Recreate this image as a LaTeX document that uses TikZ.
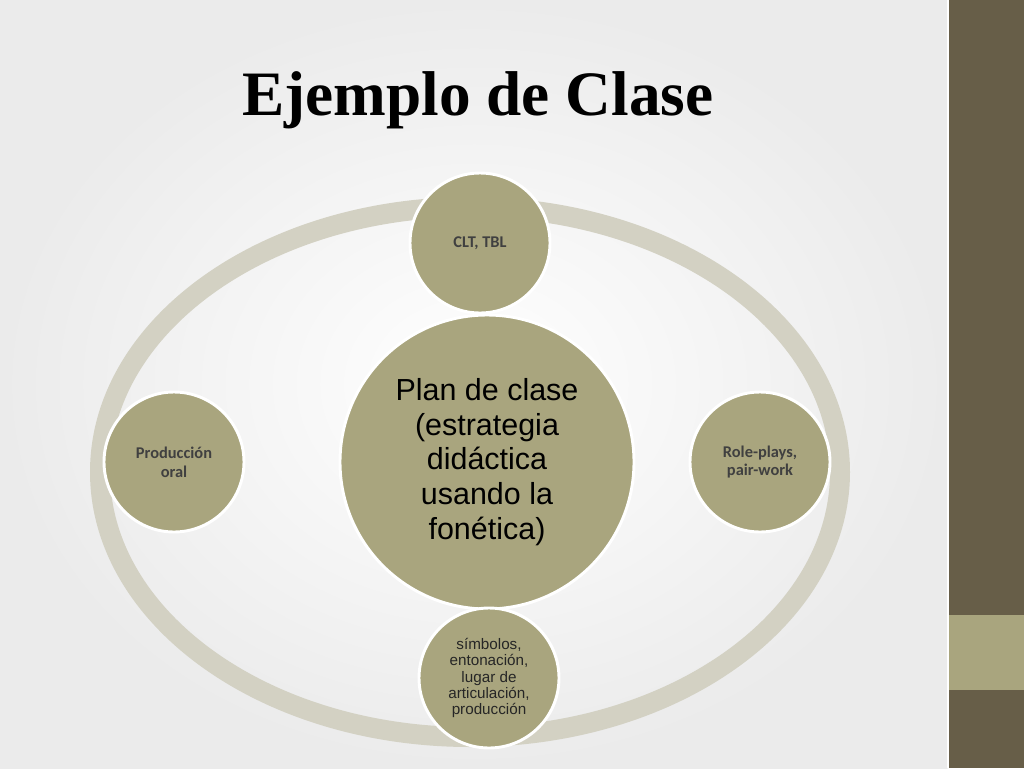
\documentclass[tikz,border=0pt]{standalone}
\usepackage{fontspec}
\setmainfont{Liberation Serif}
\newfontfamily\armfont{Liberation Sans}
\newfontfamily\carfont{Carlito}
\definecolor{olive}{HTML}{A9A57E}
\definecolor{ring}{HTML}{D3D1C3}
\definecolor{barDark}{HTML}{675E48}
\definecolor{paper}{HTML}{EBEBEB}
\tikzset{
  every picture/.style={line cap=round, line join=round},
  bubble/.style={circle, fill=olive, draw=white, line width=2.5pt, align=center, inner sep=0pt},
  hub/.style={bubble, minimum size=294*0.3mm, font=\armfont\fontsize{26}{29.5}\selectfont},
  spoke/.style={bubble, minimum size=140*0.3mm, font=\carfont\bfseries\fontsize{14}{16}\selectfont, text=black!75},
  spokeB/.style={spoke, font=\armfont\fontsize{13}{14}\selectfont, text=black!85}
}
\begin{document}
\begin{tikzpicture}[x=0.3mm, y=-0.3mm]
  \useasboundingbox (0,0) rectangle (1024,768);
  \shade[inner color=white, outer color=paper] (0,0) rectangle (948,768);
  \fill[barDark] (948,0) rectangle (1024,768);
  \fill[olive] (948,615) rectangle (1024,690);
  \draw[white, line width=1pt] (948,0) -- (948,768);

  % title
  \node[font=\bfseries\fontsize{60}{66}\selectfont, scale=0.9] (title) at (478,100) {Ejemplo de Clase};

  % ring
  \draw[ring, line width=20*0.3mm] (470,472) ellipse (370 and 265);

  \node[hub] (plan) at (487,462) {Plan de clase\\(estrategia\\didáctica\\usando la\\fonética)};
  \node[spoke] (clt) at (480,243) {CLT, TBL};
  \node[spoke] (prod) at (174,462) {Producción\\oral};
  \node[spoke] (role) at (760,462) {Role-plays,\\pair-work};
  \node[spokeB] (simb) at (489,678) {símbolos,\\entonación,\\lugar de\\articulación,\\producción};
\end{tikzpicture}
\end{document}
